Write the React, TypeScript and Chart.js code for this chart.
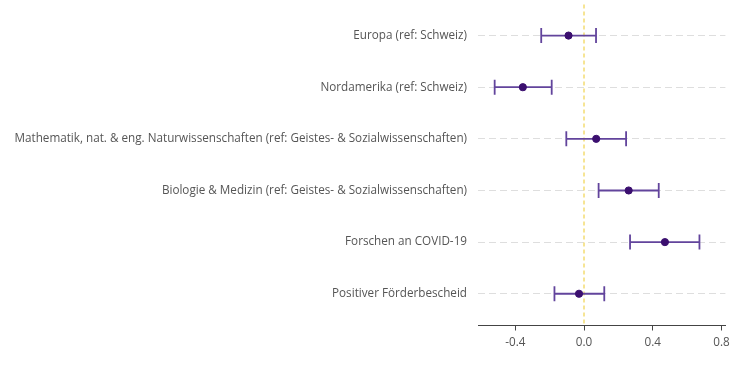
import React, { useEffect, useRef } from "react";
import { Chart, registerables } from "chart.js";

Chart.register(...registerables);

const categories = [
  "Europa (ref: Schweiz)",
  "Nordamerika (ref: Schweiz)",
  "Mathematik, nat. & eng. Naturwissenschaften (ref: Geistes- & Sozialwissenschaften)",
  "Biologie & Medizin (ref: Geistes- & Sozialwissenschaften)",
  "Forschen an COVID-19",
  "Positiver Förderbescheid",
];
const estimates = [-0.09, -0.356, 0.071, 0.26, 0.471, -0.029];
const lower = [-0.249, -0.52, -0.103, 0.085, 0.268, -0.172];
const upper = [0.07, -0.188, 0.245, 0.435, 0.672, 0.118];
const xTicks = [-0.4, 0, 0.4, 0.8];

const FONT = "'Open Sans', sans-serif";

const errorBarPlugin = {
  id: "errorBars",
  beforeDatasetsDraw(chart: any) {
    const { ctx, chartArea, scales } = chart;
    const xs = scales.x;
    const ys = scales.y;
    ctx.save();
    const x0 = xs.getPixelForValue(0);
    ctx.strokeStyle = "#f3dc72";
    ctx.lineWidth = 1.5;
    ctx.setLineDash([4, 3]);
    ctx.beginPath();
    ctx.moveTo(x0, chartArea.top);
    ctx.lineTo(x0, chartArea.bottom);
    ctx.stroke();
    ctx.setLineDash([]);
    ctx.strokeStyle = "#62449c";
    ctx.lineWidth = 1.8;
    const cap = 7.5;
    categories.forEach((_, i) => {
      const y = ys.getPixelForValue(i);
      const xl = xs.getPixelForValue(lower[i]);
      const xr = xs.getPixelForValue(upper[i]);
      ctx.beginPath();
      ctx.moveTo(xl, y);
      ctx.lineTo(xr, y);
      ctx.moveTo(xl, y - cap);
      ctx.lineTo(xl, y + cap);
      ctx.moveTo(xr, y - cap);
      ctx.lineTo(xr, y + cap);
      ctx.stroke();
    });
    ctx.restore();
  },
};

export default function App() {
  const ref = useRef<HTMLCanvasElement>(null);
  useEffect(() => {
    document.body.style.margin = "0";
    const chart = new Chart(ref.current!, {
      type: "scatter",
      data: {
        datasets: [
          {
            data: estimates.map((x, i) => ({ x, y: i })),
            backgroundColor: "#3b0f6f",
            borderColor: "#3b0f6f",
            pointRadius: 3.6,
            pointHoverRadius: 3.6,
          },
        ],
      },
      options: {
        responsive: false,
        animation: false,
        layout: { padding: { top: 4, right: 3, bottom: 0, left: 0 } },
        plugins: {
          legend: { display: false },
          tooltip: { enabled: false },
        },
        scales: {
          x: {
            type: "linear",
            min: -0.617,
            max: 0.823,
            afterBuildTicks: (s: any) => {
              s.ticks = xTicks.map((v) => ({ value: v }));
            },
            afterFit: (s: any) => {
              s.height = 39.5;
              s.paddingLeft = 0;
              s.paddingRight = 0;
            },
            ticks: {
              callback: (v: any) => Number(v).toFixed(1),
              color: "#555",
              font: { family: FONT, size: 11.7 },
              padding: 5,
            },
            grid: {
              drawOnChartArea: false,
              drawTicks: true,
              tickLength: 5,
              color: "#444",
            },
            border: { display: true, color: "#444", width: 1 },
          },
          y: {
            type: "linear",
            reverse: true,
            min: -0.6,
            max: 5.615,
            afterBuildTicks: (s: any) => {
              s.ticks = categories.map((_, i) => ({ value: i }));
            },
            afterFit: (s: any) => {
              s.width = 478;
              s.paddingTop = 0;
              s.paddingBottom = 0;
            },
            ticks: {
              callback: (v: any) => categories[v as number],
              color: "#555",
              font: { family: FONT, size: 11.7 },
              padding: 11,
            },
            grid: {
              drawTicks: false,
              color: "#dedede",
              lineWidth: 1,
            },
            border: { display: false, dash: [7, 4] },
          },
        },
      },
      plugins: [errorBarPlugin],
    } as any);
    return () => chart.destroy();
  }, []);
  return (
    <div style={{ width: 730, height: 365 }}>
      <canvas ref={ref} width={730} height={365} />
    </div>
  );
}
